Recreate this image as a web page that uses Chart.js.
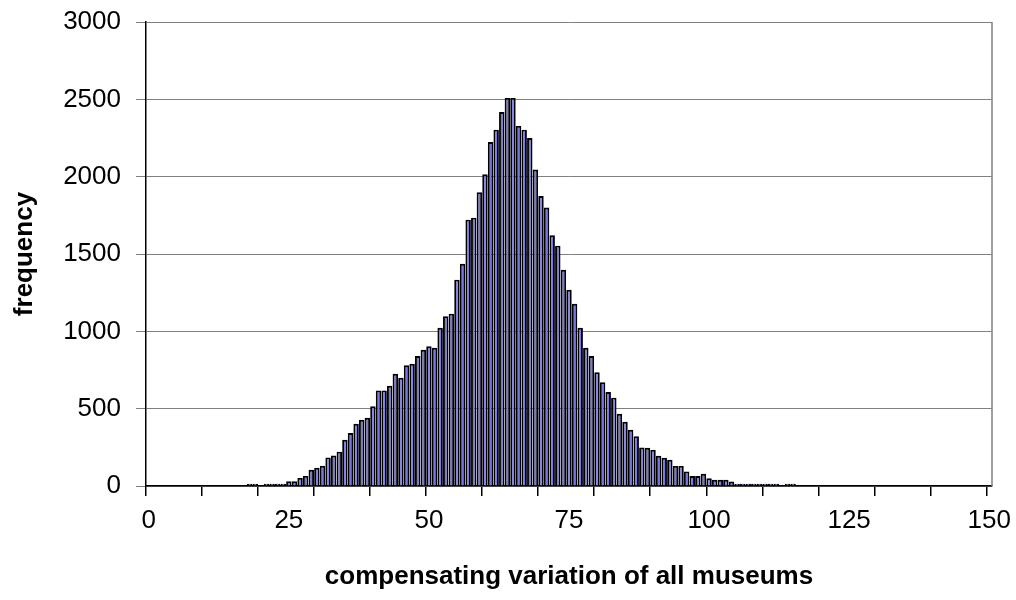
<!DOCTYPE html>
<html>
<head>
<meta charset="utf-8">
<script src="https://cdn.jsdelivr.net/npm/chart.js@4"></script>
<style>
  html, body { margin: 0; padding: 0; background: #fff; }
</style>
</head>
<body>
<canvas id="chart" width="1016" height="600"></canvas>
<script>
// bins of the compensating variation (one per unit, 0..150)
const categories = [
  0, 1, 2, 3, 4, 5, 6, 7, 8, 9, 10, 11, 12, 13, 14, 15, 16, 17, 18, 19,
  20, 21, 22, 23, 24, 25, 26, 27, 28, 29, 30, 31, 32, 33, 34, 35, 36, 37, 38, 39,
  40, 41, 42, 43, 44, 45, 46, 47, 48, 49, 50, 51, 52, 53, 54, 55, 56, 57, 58, 59,
  60, 61, 62, 63, 64, 65, 66, 67, 68, 69, 70, 71, 72, 73, 74, 75, 76, 77, 78, 79,
  80, 81, 82, 83, 84, 85, 86, 87, 88, 89, 90, 91, 92, 93, 94, 95, 96, 97, 98, 99,
  100, 101, 102, 103, 104, 105, 106, 107, 108, 109, 110, 111, 112, 113, 114, 115, 116, 117, 118, 119,
  120, 121, 122, 123, 124, 125, 126, 127, 128, 129, 130, 131, 132, 133, 134, 135, 136, 137, 138, 139,
  140, 141, 142, 143, 144, 145, 146, 147, 148, 149, 150
];

// frequency per bin
const frequency = [
  0, 0, 0, 0, 0, 0, 0, 0, 0, 0, 0, 0, 0, 0, 0, 0, 0, 0, 15, 15,
  0, 15, 15, 15, 15, 30, 30, 52, 65, 105, 118, 131, 185, 197, 222, 299, 342, 402, 428, 441,
  516, 618, 618, 648, 725, 700, 780, 790, 840, 881, 904, 894, 1023, 1098, 1114, 1334, 1437, 1722, 1735, 1900,
  2015, 2224, 2304, 2418, 2509, 2509, 2328, 2304, 2250, 2046, 1875, 1800, 1621, 1554, 1398, 1269, 1178, 1023, 894, 840,
  736, 671, 607, 571, 467, 415, 363, 322, 249, 247, 234, 195, 182, 169, 130, 130, 94, 64, 64, 79,
  50, 40, 40, 40, 29, 15, 15, 15, 15, 15, 15, 15, 15, 0, 15, 15, 0, 0, 0, 0,
  0, 0, 0, 0, 0, 0, 0, 0, 0, 0, 0, 0, 0, 0, 0, 0, 0, 0, 0, 0,
  0, 0, 0, 0, 0, 0, 0, 0, 0, 0, 0
];

const tickLabels = [0, 25, 50, 75, 100, 125, 150];
const tickMarkEvery = 10;

const FONT = "'Liberation Sans', Arial, sans-serif";

// grey frame line on the right edge of the plot
const frame = {
  id: 'frame',
  afterDraw(chart) {
    const { ctx, chartArea: a } = chart;
    ctx.save();
    ctx.strokeStyle = '#808080';
    ctx.lineWidth = 1.5;
    ctx.beginPath();
    ctx.moveTo(a.right, a.top);
    ctx.lineTo(a.right, a.bottom);
    ctx.stroke();
    ctx.restore();
  }
};

new Chart(document.getElementById('chart'), {
  type: 'bar',
  data: {
    labels: categories,
    datasets: [{
      data: frequency,
      backgroundColor: '#7878e0',
      borderColor: '#000',
      borderWidth: 1.9,
      barPercentage: 0.97,
      categoryPercentage: 1
    }]
  },
  options: {
    responsive: false,
    animation: false,
    layout: { padding: { top: 22, right: 24, bottom: 0, left: 0 } },
    plugins: { legend: { display: false }, tooltip: { enabled: false } },
    scales: {
      x: {
        offset: true,
        grid: {
          offset: true,
          drawOnChartArea: false,
          tickLength: 10,
          lineWidth: 1.5,
          color: '#000',
          tickColor: c => (c.index % tickMarkEvery === 0 ? '#000' : 'rgba(0,0,0,0)')
        },
        border: { color: '#000', width: 1.5 },
        ticks: {
          autoSkip: false,
          maxRotation: 0,
          minRotation: 0,
          padding: 9,
          color: '#000',
          font: { family: FONT, size: 26 },
          callback: (v, i) => (tickLabels.includes(categories[i]) ? String(categories[i]) : '')
        },
        title: {
          display: true,
          text: 'compensating variation of all museums',
          color: '#000',
          font: { family: FONT, size: 26, weight: 'bold' },
          padding: { bottom: 8 }
        },
        afterFit: s => { s.height = 114; s.paddingLeft = 0; s.paddingRight = 0; }
      },
      y: {
        min: 0,
        max: 3000,
        ticks: {
          stepSize: 500,
          padding: 15,
          color: '#000',
          font: { family: FONT, size: 26 },
          callback: v => String(v)
        },
        grid: { color: '#808080', lineWidth: 1, tickLength: 10 },
        border: { color: '#000', width: 1.5 },
        title: {
          display: true,
          text: 'frequency',
          color: '#000',
          font: { family: FONT, size: 26, weight: 'bold' },
          padding: { top: 9 }
        },
        afterFit: s => { s.width = 146; s.paddingTop = 0; s.paddingBottom = 0; }
      }
    }
  },
  plugins: [frame]
});
</script>
</body>
</html>
